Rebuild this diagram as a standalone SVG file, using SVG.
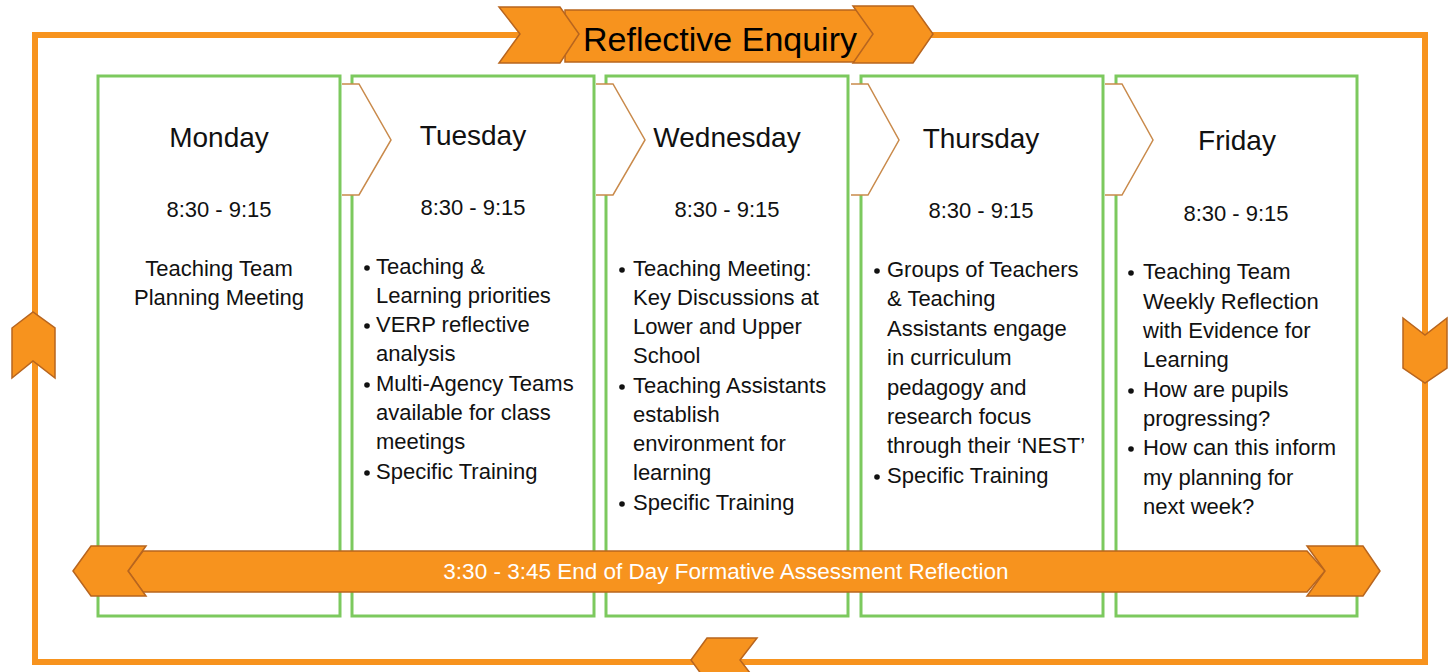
<svg xmlns="http://www.w3.org/2000/svg" width="1451" height="672" viewBox="0 0 1451 672">
<style>
.frame{fill:none;stroke:#F7931E;stroke-width:6}
.or{fill:#F7931E;stroke:#B8651E;stroke-width:1.5;stroke-linejoin:miter}
.col{fill:#fff;stroke:#7CC95E;stroke-width:3}
.chevfill{fill:#fff;stroke:none}
.chev{fill:none;stroke:#C98A4B;stroke-width:1.5}
.day{font-family:"Liberation Sans",Arial,sans-serif;font-size:28px;fill:#111;text-anchor:middle}
.time{font-family:"Liberation Sans",Arial,sans-serif;font-size:22px;fill:#111;text-anchor:middle}
.body{font-family:"Liberation Sans",Arial,sans-serif;font-size:22px;fill:#111}
.mid{text-anchor:middle}
.dot{fill:#111}
.title{font-family:"Liberation Sans",Arial,sans-serif;font-size:34px;fill:#000;text-anchor:middle}
.band{font-family:"Liberation Sans",Arial,sans-serif;font-size:22.5px;fill:#fff;text-anchor:middle}
</style>
<g id="connectors">
<rect class="frame" x="35" y="35" width="1390" height="627"/>
<polygon class="or" points="12,328 33,312 55,328 55,378 33,361 12,378"/>
<polygon class="or" points="1403,318 1425,335 1447,318 1447,368 1425,383 1403,368"/>
<polygon class="or" points="691,660 707,638 757,638 740,660 757,682 707,682"/>
</g>
<g id="title">
<polygon class="or" points="565,10 885,10 885,62 565,62"/>
<polygon class="or" points="499,7 560,7 579,34 560,63 499,63 520,34"/>
<polygon class="or" points="853,6 913,6 933,34 913,63 853,63 873,34"/>
<text class="title" x="720" y="51">Reflective Enquiry</text>
</g>
<g id="monday">
<rect class="col" x="98" y="76" width="242" height="540"/>
<text class="day" x="219" y="147">Monday</text>
<text class="time" x="219" y="217">8:30 - 9:15</text>
<text class="body mid" x="219" y="276">Teaching Team</text>
<text class="body mid" x="219" y="305">Planning Meeting</text>
</g>
<g id="tuesday">
<rect class="col" x="352" y="76" width="242" height="540"/>
<text class="day" x="473" y="145">Tuesday</text>
<text class="time" x="473" y="215">8:30 - 9:15</text>
<circle class="dot" cx="367" cy="268" r="2.8"/>
<circle class="dot" cx="367" cy="326" r="2.8"/>
<circle class="dot" cx="367" cy="385" r="2.8"/>
<circle class="dot" cx="367" cy="473" r="2.8"/>
<text class="body" x="376" y="274">Teaching &amp;</text>
<text class="body" x="376" y="303">Learning priorities</text>
<text class="body" x="376" y="332">VERP reflective</text>
<text class="body" x="376" y="361">analysis</text>
<text class="body" x="376" y="391">Multi-Agency Teams</text>
<text class="body" x="376" y="420">available for class</text>
<text class="body" x="376" y="449">meetings</text>
<text class="body" x="376" y="479">Specific Training</text>
</g>
<g id="wednesday">
<rect class="col" x="606" y="76" width="242" height="540"/>
<text class="day" x="727" y="147">Wednesday</text>
<text class="time" x="727" y="217">8:30 - 9:15</text>
<circle class="dot" cx="622" cy="270" r="2.8"/>
<circle class="dot" cx="622" cy="387" r="2.8"/>
<circle class="dot" cx="622" cy="504" r="2.8"/>
<text class="body" x="633" y="276">Teaching Meeting:</text>
<text class="body" x="633" y="305">Key Discussions at</text>
<text class="body" x="633" y="334">Lower and Upper</text>
<text class="body" x="633" y="363">School</text>
<text class="body" x="633" y="393">Teaching Assistants</text>
<text class="body" x="633" y="422">establish</text>
<text class="body" x="633" y="451">environment for</text>
<text class="body" x="633" y="480">learning</text>
<text class="body" x="633" y="510">Specific Training</text>
</g>
<g id="thursday">
<rect class="col" x="861" y="76" width="242" height="540"/>
<text class="day" x="981" y="148">Thursday</text>
<text class="time" x="981" y="218">8:30 - 9:15</text>
<circle class="dot" cx="877" cy="271" r="2.8"/>
<circle class="dot" cx="877" cy="477" r="2.8"/>
<text class="body" x="887" y="277">Groups of Teachers</text>
<text class="body" x="887" y="306">&amp; Teaching</text>
<text class="body" x="887" y="336">Assistants engage</text>
<text class="body" x="887" y="365">in curriculum</text>
<text class="body" x="887" y="395">pedagogy and</text>
<text class="body" x="887" y="424">research focus</text>
<text class="body" x="887" y="453">through their ‘NEST’</text>
<text class="body" x="887" y="483">Specific Training</text>
</g>
<g id="friday">
<rect class="col" x="1116" y="76" width="241" height="540"/>
<text class="day" x="1237" y="150">Friday</text>
<text class="time" x="1236" y="221">8:30 - 9:15</text>
<circle class="dot" cx="1131" cy="273" r="2.8"/>
<circle class="dot" cx="1131" cy="391" r="2.8"/>
<circle class="dot" cx="1131" cy="449" r="2.8"/>
<text class="body" x="1143" y="279">Teaching Team</text>
<text class="body" x="1143" y="309">Weekly Reflection</text>
<text class="body" x="1143" y="338">with Evidence for</text>
<text class="body" x="1143" y="367">Learning</text>
<text class="body" x="1143" y="397">How are pupils</text>
<text class="body" x="1143" y="426">progressing?</text>
<text class="body" x="1143" y="455">How can this inform</text>
<text class="body" x="1143" y="485">my planning for</text>
<text class="body" x="1143" y="514">next week?</text>
</g>
<g id="step-arrows">
<polygon class="chevfill" points="342,84 359,84 391,140 359,195 342,195"/>
<polyline class="chev" points="342,84 359,84 391,140 359,195 342,195"/>
<polygon class="chevfill" points="596,84 613,84 645,140 613,195 596,195"/>
<polyline class="chev" points="596,84 613,84 645,140 613,195 596,195"/>
<polygon class="chevfill" points="851,84 868,84 899,140 868,195 851,195"/>
<polyline class="chev" points="851,84 868,84 899,140 868,195 851,195"/>
<polygon class="chevfill" points="1105,84 1122,84 1153,140 1122,195 1105,195"/>
<polyline class="chev" points="1105,84 1122,84 1153,140 1122,195 1105,195"/>
</g>
<g id="daily-reflection">
<polygon class="or" points="143,551 1307,551 1325,571 1307,592 143,592 128,571"/>
<polygon class="or" points="73,571 91,546 146,546 128,571 146,596 91,596"/>
<polygon class="or" points="1307,546 1363,546 1380,571 1363,596 1307,596 1325,571"/>
<text class="band" x="726" y="579">3:30 - 3:45 End of Day Formative Assessment Reflection</text>
</g>
</svg>
